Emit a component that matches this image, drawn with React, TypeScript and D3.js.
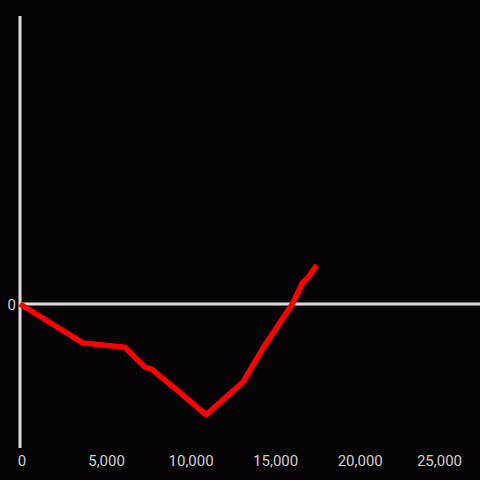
import React, { useEffect, useRef } from "react";
import * as d3 from "d3";

const seriesX = [0, 3700, 6200, 7400, 7750, 9300, 11000, 13200, 14350, 16100, 16700, 17000, 17550];
const seriesY = [0, -0.27, -0.3, -0.44, -0.45, -0.6, -0.77, -0.54, -0.31, 0, 0.146, 0.18, 0.27];
const xTicks = [0, 5000, 10000, 15000, 20000, 25000];
const yTicks = [0];

const W = 480;
const H = 480;

export default function App() {
  const ref = useRef<SVGSVGElement | null>(null);

  useEffect(() => {
    const svg = d3.select(ref.current);
    svg.selectAll("*").remove();

    const x = d3.scaleLinear().domain([0, 27200]).range([20, 480]);
    const y = d3.scaleLinear().domain([-1, 2]).range([448, 16]);

    svg.append("rect").attr("width", W).attr("height", H).attr("fill", "#050306");

    const axisColor = "#dedede";
    svg.append("line")
      .attr("x1", x(0)).attr("x2", x(0))
      .attr("y1", y(2)).attr("y2", y(-1))
      .attr("stroke", axisColor).attr("stroke-width", 3);
    svg.append("line")
      .attr("x1", x(0)).attr("x2", W)
      .attr("y1", y(0)).attr("y2", y(0))
      .attr("stroke", axisColor).attr("stroke-width", 3);

    const font = "Roboto, 'Liberation Sans', Arial, sans-serif";

    const xl = svg.append("g").selectAll("text").data(xTicks).join("text")
      .attr("x", (d) => x(d) + 2)
      .attr("y", 466)
      .attr("text-anchor", "middle")
      .attr("font-family", font)
      .attr("font-size", 15)
      .attr("fill", "#d0d0d0")
      .text((d) => d3.format(",")(d));

    xl.each(function () {
      const el = this as SVGTextElement;
      const bb = el.getBBox();
      const right = bb.x + bb.width;
      const limit = W - 18;
      if (right > limit) {
        const cur = +el.getAttribute("x")!;
        el.setAttribute("x", String(cur - (right - limit)));
      }
    });

    svg.append("g").selectAll("text").data(yTicks).join("text")
      .attr("x", 16)
      .attr("y", (d) => y(d) + 5.5)
      .attr("text-anchor", "end")
      .attr("font-family", font)
      .attr("font-size", 15)
      .attr("fill", "#d0d0d0")
      .text((d) => String(d));

    const pts: [number, number][] = seriesX.map((v, i) => [v, seriesY[i]]);
    const line = d3.line<[number, number]>()
      .x((d) => x(d[0]))
      .y((d) => y(d[1]));

    svg.append("path")
      .attr("d", line(pts)!)
      .attr("fill", "none")
      .attr("stroke", "#ff0000")
      .attr("stroke-width", 5.5)
      .attr("stroke-linejoin", "round")
      .attr("stroke-linecap", "butt");
  }, []);

  return (
    <div style={{ position: "fixed", left: 0, top: 0, width: W, height: H }}>
      <svg ref={ref} width={W} height={H} style={{ display: "block" }} />
    </div>
  );
}
